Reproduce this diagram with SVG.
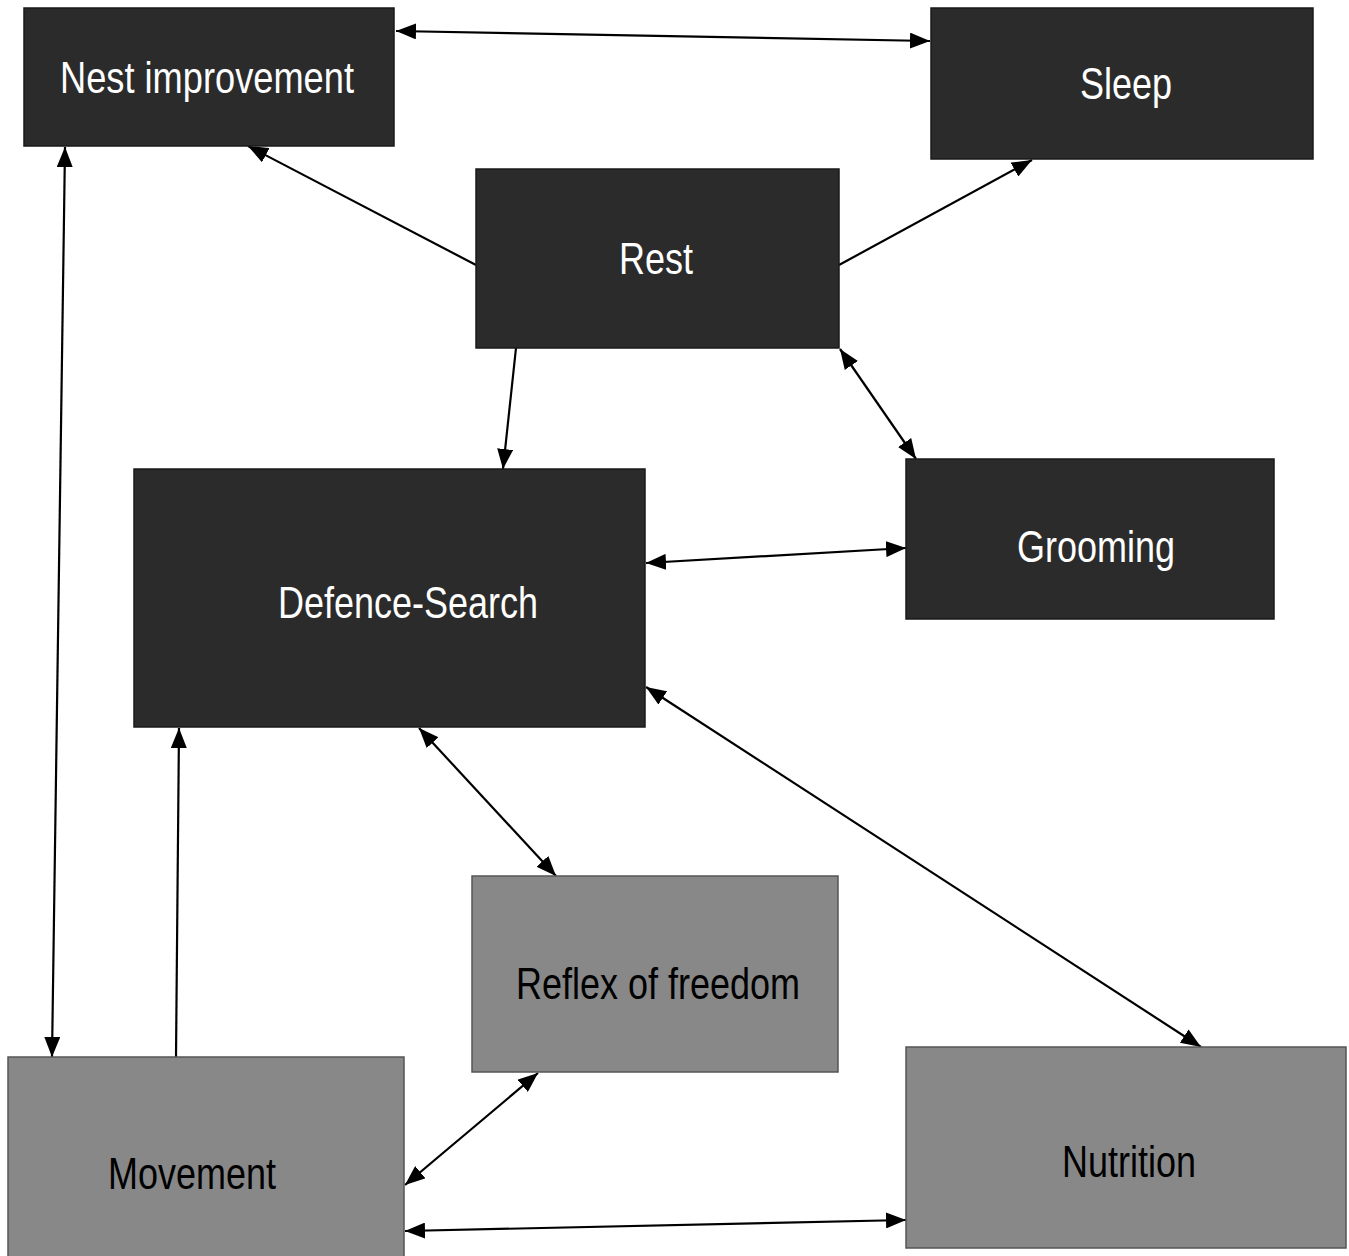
<svg xmlns="http://www.w3.org/2000/svg" width="1349" height="1256" viewBox="0 0 1349 1256">
<style>
.dark{fill:#2b2b2b;stroke:#1a1a1a;stroke-width:1.5}
.grey{fill:#888888;stroke:#555555;stroke-width:1.5}
.lw{font-family:"Liberation Sans",Arial,sans-serif;font-size:44px;fill:#ffffff}
.lb{font-family:"Liberation Sans",Arial,sans-serif;font-size:44px;fill:#000000}
.c{stroke:#000;stroke-width:2.2;fill:none}
</style>
<defs>
<marker id="ah" markerUnits="userSpaceOnUse" viewBox="0 0 20 16" markerWidth="20" markerHeight="16" refX="20" refY="8" orient="auto-start-reverse">
<path d="M0,0 L20,8 L0,16 z" fill="#000"/>
</marker>
</defs>
<rect width="1349" height="1256" fill="#ffffff"/>
<g id="connectors">
<line class="c" x1="396" y1="31" x2="930" y2="41" marker-start="url(#ah)" marker-end="url(#ah)"/>
<line class="c" x1="476" y1="265" x2="248" y2="146" marker-end="url(#ah)"/>
<line class="c" x1="839" y1="265" x2="1032" y2="160" marker-end="url(#ah)"/>
<line class="c" x1="516" y1="348" x2="503" y2="469" marker-end="url(#ah)"/>
<line class="c" x1="840" y1="349" x2="916" y2="459" marker-start="url(#ah)" marker-end="url(#ah)"/>
<line class="c" x1="646" y1="563" x2="906" y2="548" marker-start="url(#ah)" marker-end="url(#ah)"/>
<line class="c" x1="419" y1="728" x2="556" y2="876" marker-start="url(#ah)" marker-end="url(#ah)"/>
<line class="c" x1="646" y1="687" x2="1201" y2="1047" marker-start="url(#ah)" marker-end="url(#ah)"/>
<line class="c" x1="65" y1="147" x2="52" y2="1057" marker-start="url(#ah)" marker-end="url(#ah)"/>
<line class="c" x1="176" y1="1057" x2="179" y2="728" marker-end="url(#ah)"/>
<line class="c" x1="405" y1="1185" x2="538" y2="1073" marker-start="url(#ah)" marker-end="url(#ah)"/>
<line class="c" x1="405" y1="1231" x2="906" y2="1220" marker-start="url(#ah)" marker-end="url(#ah)"/>
</g>
<g id="nest">
<rect class="dark" x="24" y="8" width="370" height="138"/>
<text class="lw" x="60" y="93" textLength="294" lengthAdjust="spacingAndGlyphs">Nest improvement</text>
</g>
<g id="sleep">
<rect class="dark" x="931" y="8" width="382" height="151"/>
<text class="lw" x="1080" y="99" textLength="92" lengthAdjust="spacingAndGlyphs">Sleep</text>
</g>
<g id="rest">
<rect class="dark" x="476" y="169" width="363" height="179"/>
<text class="lw" x="619" y="274" textLength="74" lengthAdjust="spacingAndGlyphs">Rest</text>
</g>
<g id="defence">
<rect class="dark" x="134" y="469" width="511" height="258"/>
<text class="lw" x="278" y="618" textLength="260" lengthAdjust="spacingAndGlyphs">Defence-Search</text>
</g>
<g id="grooming">
<rect class="dark" x="906" y="459" width="368" height="160"/>
<text class="lw" x="1017" y="562" textLength="158" lengthAdjust="spacingAndGlyphs">Grooming</text>
</g>
<g id="reflex">
<rect class="grey" x="472" y="876" width="366" height="196"/>
<text class="lb" x="516" y="999" textLength="284" lengthAdjust="spacingAndGlyphs">Reflex of freedom</text>
</g>
<g id="movement">
<rect class="grey" x="8" y="1057" width="396" height="202"/>
<text class="lb" x="108" y="1189" textLength="168" lengthAdjust="spacingAndGlyphs">Movement</text>
</g>
<g id="nutrition">
<rect class="grey" x="906" y="1047" width="440" height="201"/>
<text class="lb" x="1062" y="1177" textLength="134" lengthAdjust="spacingAndGlyphs">Nutrition</text>
</g>
</svg>
